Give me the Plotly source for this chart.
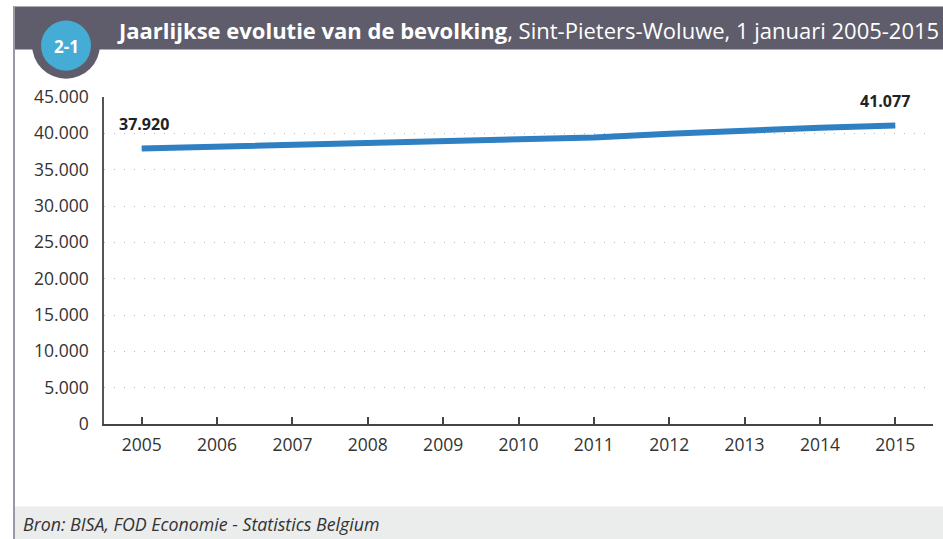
import plotly.graph_objects as go

years = [2005, 2006, 2007, 2008, 2009, 2010, 2011, 2012, 2013, 2014, 2015]
population = [37920, 38150, 38470, 38600, 38930, 39080, 39430, 39940, 40450, 40780, 41077]
y_ticks = [0, 5000, 10000, 15000, 20000, 25000, 30000, 35000, 40000, 45000]
y_tick_labels = ["0", "5.000", "10.000", "15.000", "20.000", "25.000", "30.000", "35.000", "40.000", "45.000"]
year_labels = [str(y) for y in years]

W, H = 943, 539
L, R, T, B = 104, 933, 97.3, 423.7

def px(x):
    return (x - L) / (R - L)

def py(y):
    return (B - y) / (B - T)

fig = go.Figure()
fig.add_trace(go.Scatter(
    x=years, y=population, mode="lines",
    line=dict(color="#2f80c2", width=6),
    hoverinfo="skip", showlegend=False,
))

FONT = "Open Sans"
shapes = [
    dict(type="rect", xref="paper", yref="paper", x0=px(13), x1=px(943), y0=py(50), y1=py(7),
         fillcolor="#5f5d6b", line=dict(width=0), layer="above"),
    dict(type="rect", xref="paper", yref="paper", x0=px(14), x1=px(943), y0=py(539), y1=py(506),
         fillcolor="#ebecec", line=dict(width=0), layer="below"),
    dict(type="line", xref="paper", yref="paper", x0=px(14), x1=px(14), y0=py(539), y1=py(7),
         line=dict(color="#9a99a3", width=2)),
    dict(type="circle", xref="paper", yref="paper", x0=px(32), x1=px(100), y0=py(79), y1=py(11),
         fillcolor="#5f5d6b", line=dict(width=0), layer="above"),
    dict(type="circle", xref="paper", yref="paper", x0=px(41), x1=px(91), y0=py(71), y1=py(21),
         fillcolor="#45acd6", line=dict(width=0), layer="above"),
]

annotations = [
    dict(xref="paper", yref="paper", x=px(66), y=py(47), text="<b>2-1</b>", showarrow=False,
         font=dict(family=FONT, size=17, color="white"), xanchor="center", yanchor="middle"),
    dict(xref="paper", yref="paper", x=px(941), y=py(30), showarrow=False,
         text="<b>Jaarlijkse evolutie van de bevolking</b>, Sint-Pieters-Woluwe, 1 januari 2005-2015",
         font=dict(family=FONT, size=22, color="white"), xanchor="right", yanchor="middle"),
    dict(xref="paper", yref="paper", x=px(21), y=py(524), showarrow=False,
         text="<i>Bron: BISA, FOD Economie - Statistics Belgium</i>",
         font=dict(family=FONT, size=17.8, color="#333333"), xanchor="left", yanchor="middle"),
    dict(x=years[0], y=population[0], xref="x", yref="y", showarrow=False,
         text="<b>" + f"{population[0]:,}".replace(",", ".") + "</b>",
         font=dict(family=FONT, size=16, color="#222222"), xanchor="left", yanchor="bottom",
         xshift=-25, yshift=11),
    dict(x=years[-1], y=population[-1], xref="x", yref="y", showarrow=False,
         text="<b>" + f"{population[-1]:,}".replace(",", ".") + "</b>",
         font=dict(family=FONT, size=16, color="#222222"), xanchor="right", yanchor="bottom",
         xshift=17, yshift=12),
]

fig.update_layout(
    width=W, height=H,
    margin=dict(l=L, r=W - R, t=T, b=H - B, pad=0),
    paper_bgcolor="white", plot_bgcolor="white",
    shapes=shapes, annotations=annotations,
    font=dict(family=FONT, color="#333333"),
    xaxis=dict(
        range=[2004.5, 2015.5], tickmode="array", tickvals=years, ticktext=year_labels,
        ticks="inside", ticklen=7, tickwidth=1.5, tickcolor="#444444",
        showline=True, linecolor="#444444", linewidth=2, showgrid=False, zeroline=False,
        tickfont=dict(family=FONT, size=17.5, color="#333333"), ticklabelstandoff=4, fixedrange=True,
    ),
    yaxis=dict(
        range=[0, 45000], tickmode="array", tickvals=y_ticks, ticktext=y_tick_labels,
        ticks="", showline=True, linecolor="#555555", linewidth=1.5,
        showgrid=True, gridcolor="#b8b8b8", gridwidth=1, griddash="1px,9px", zeroline=False,
        tickfont=dict(family=FONT, size=17.5, color="#333333"), ticklabelstandoff=10, fixedrange=True,
    ),
)

fig.write_html(
    "out.html",
    config={"displayModeBar": False},
    post_script="document.body.style.margin='0';document.body.style.overflow='hidden';",
)
